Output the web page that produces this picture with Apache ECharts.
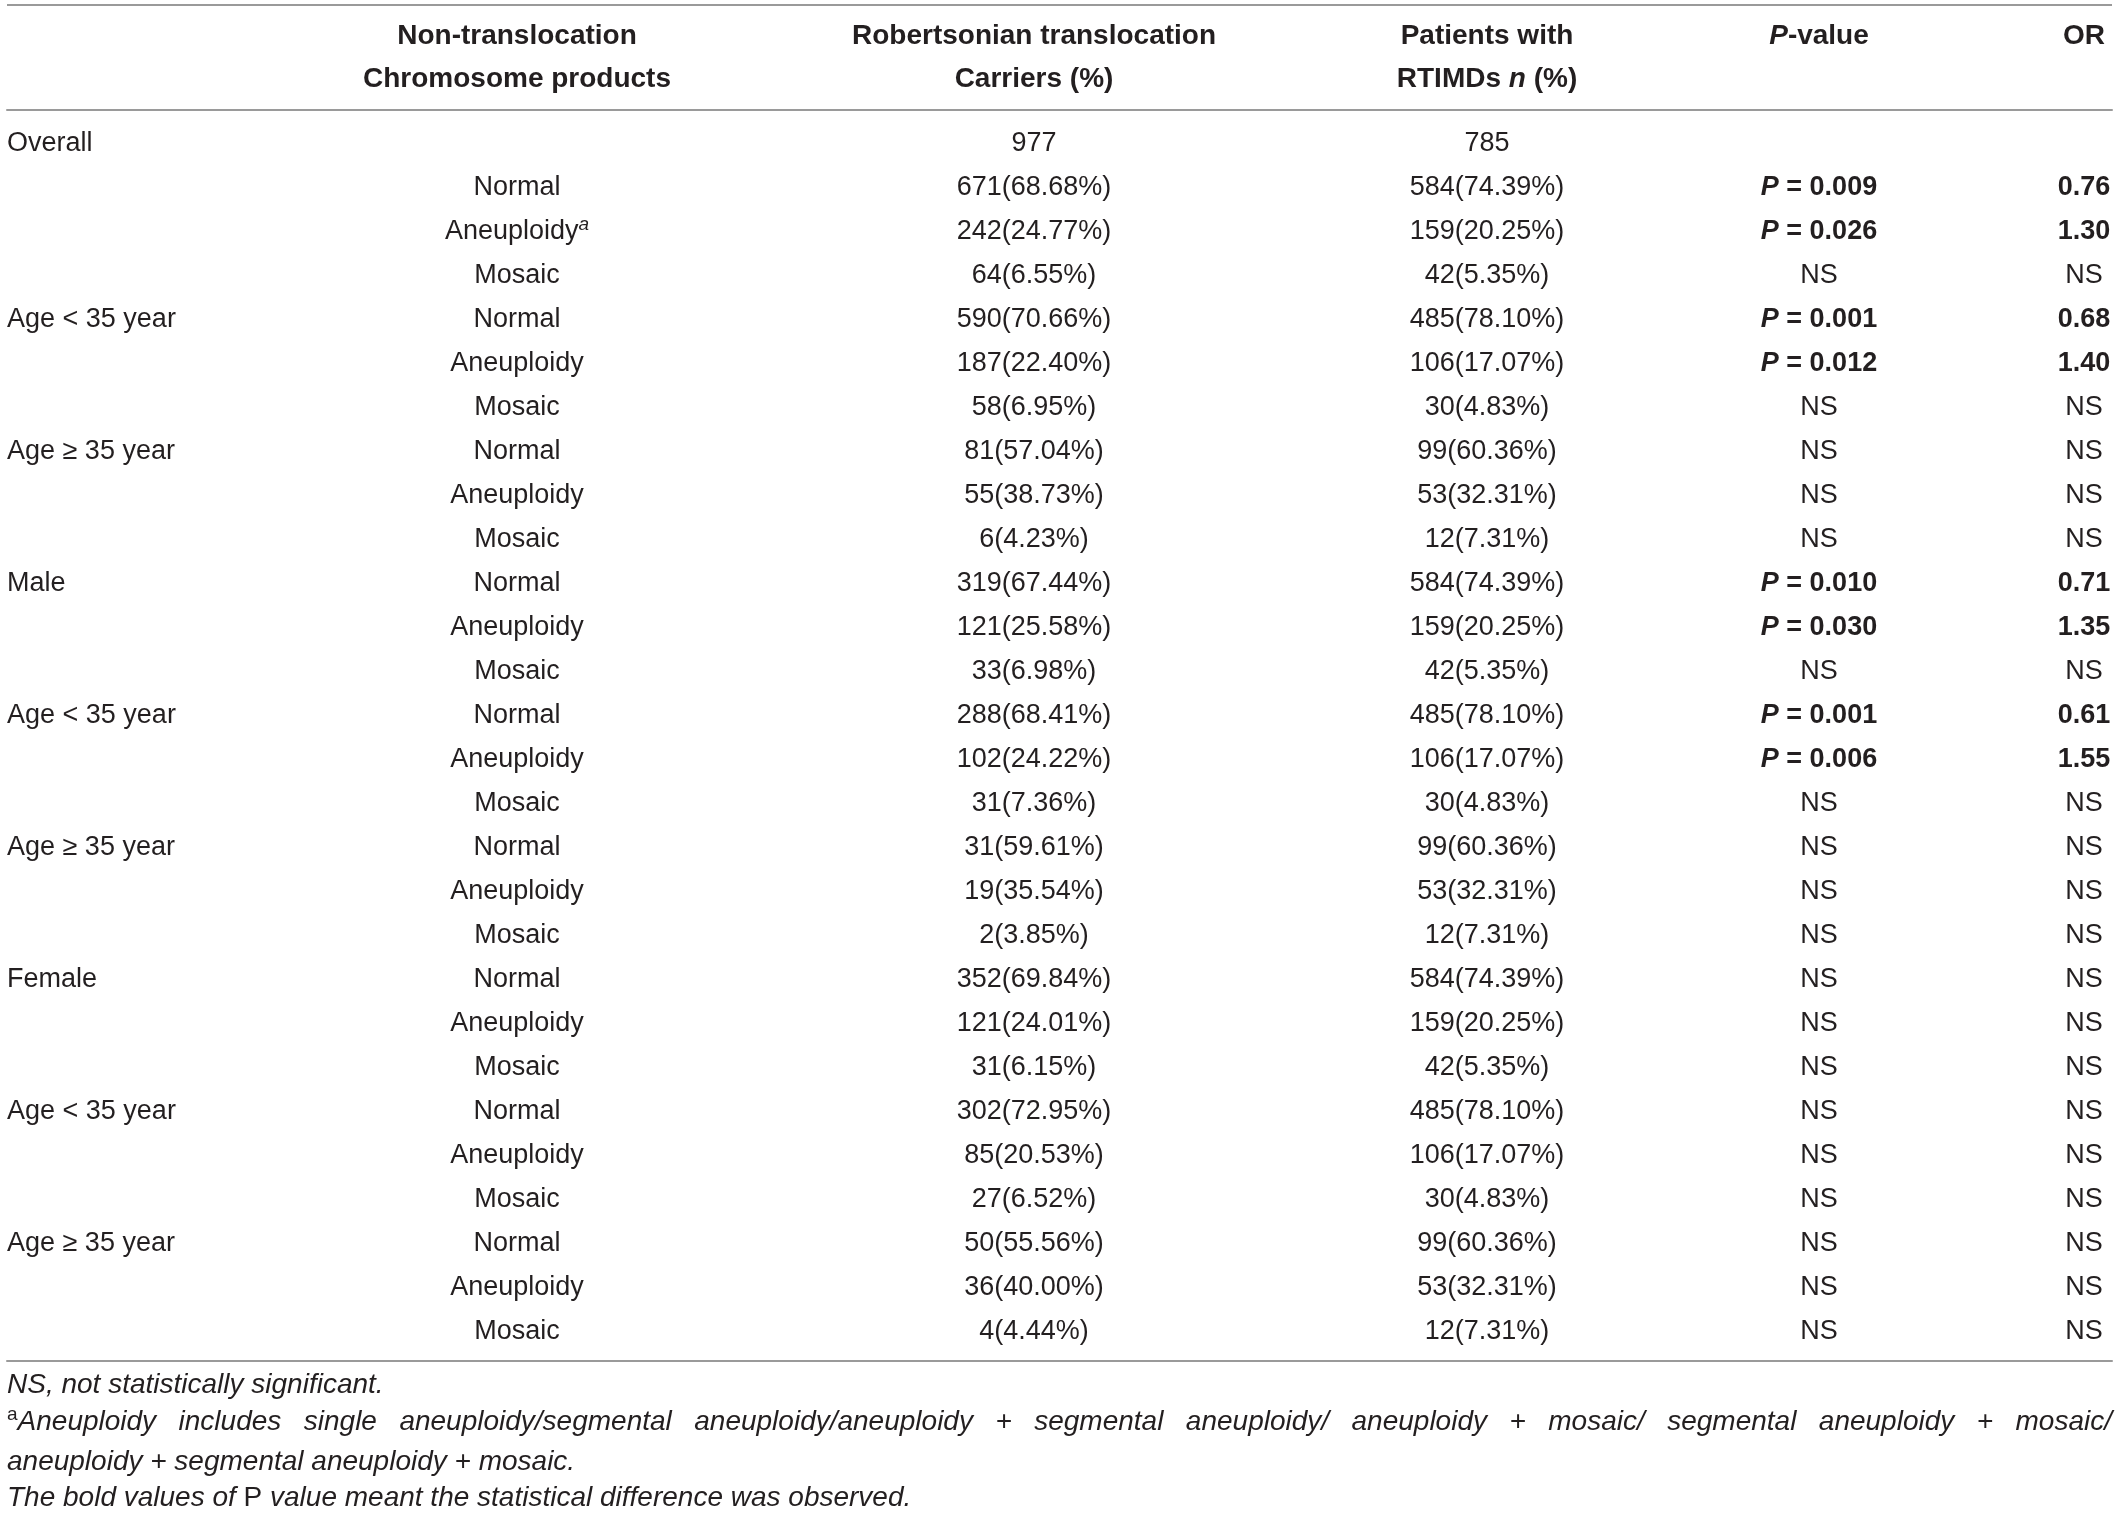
<!DOCTYPE html>
<html>
<head>
<meta charset="utf-8">
<title>Non-translocation chromosome products</title>
<script src="https://cdn.jsdelivr.net/npm/echarts@6/dist/echarts.min.js"></script>
<style>
html,body{margin:0;padding:0;background:#fff;}
#table{width:2120px;height:1513px;}
</style>
</head>
<body>
<div id="table"></div>
<script>
// table values
var groupLabels=['','Age < 35 year','Age \u2265 35 year','Male','Age < 35 year','Age \u2265 35 year','Female','Age < 35 year','Age \u2265 35 year'];
var products=['Normal','Aneuploidy','Mosaic'];
var carrierTotal=977;
var patientTotal=785;
var carrierN=[671,242,64, 590,187,58, 81,55,6, 319,121,33, 288,102,31, 31,19,2, 352,121,31, 302,85,27, 50,36,4];
var carrierPct=[68.68,24.77,6.55, 70.66,22.40,6.95, 57.04,38.73,4.23, 67.44,25.58,6.98, 68.41,24.22,7.36, 59.61,35.54,3.85, 69.84,24.01,6.15, 72.95,20.53,6.52, 55.56,40.00,4.44];
var patientN=[584,159,42, 485,106,30, 99,53,12, 584,159,42, 485,106,30, 99,53,12, 584,159,42, 485,106,30, 99,53,12];
var patientPct=[74.39,20.25,5.35, 78.10,17.07,4.83, 60.36,32.31,7.31, 74.39,20.25,5.35, 78.10,17.07,4.83, 60.36,32.31,7.31, 74.39,20.25,5.35, 78.10,17.07,4.83, 60.36,32.31,7.31];
var pValues=[0.009,0.026,null, 0.001,0.012,null, null,null,null, 0.010,0.030,null, 0.001,0.006,null, null,null,null, null,null,null, null,null,null, null,null,null];
var orValues=[0.76,1.30,null, 0.68,1.40,null, null,null,null, 0.71,1.35,null, 0.61,1.55,null, null,null,null, null,null,null, null,null,null, null,null,null];

// layout
var fontFamily='"Liberation Sans", Arial, sans-serif';
var textColor='#231f20';
var ruleColor='#9a9a9a';
var gridLeft=7, gridRight=8, gridTop=110, gridBottom=152;
var colX=[0,510,1027,1480,1812,2077];
var colAlign=['left','center','center','center','center','center'];

var richStyles={
    bi:{fontStyle:'italic',fontWeight:'bold',fontSize:27,fontFamily:fontFamily,lineHeight:34},
    b:{fontWeight:'bold',fontSize:27,fontFamily:fontFamily,lineHeight:34},
    sup:{fontStyle:'italic',fontSize:19,fontFamily:fontFamily,lineHeight:19,verticalAlign:'top'}
};

var cells=[];
cells.push({col:0,row:0,text:'Overall'});
cells.push({col:2,row:0,text:String(carrierTotal)});
cells.push({col:3,row:0,text:String(patientTotal)});
for(var i=0;i<carrierN.length;i++){
    var row=i+1;
    var k=i%3;
    if(k==0 && groupLabels[i/3]){
        cells.push({col:0,row:row,text:groupLabels[i/3]});
    }
    cells.push({col:1,row:row,text:products[k]+(i==1?'{sup|a}':'')});
    cells.push({col:2,row:row,text:carrierN[i]+'('+carrierPct[i].toFixed(2)+'%)'});
    cells.push({col:3,row:row,text:patientN[i]+'('+patientPct[i].toFixed(2)+'%)'});
    if(pValues[i]!==null){
        cells.push({col:4,row:row,text:'{bi|P}{b| = '+pValues[i].toFixed(3)+'}'});
        cells.push({col:5,row:row,text:'{b|'+orValues[i].toFixed(2)+'}'});
    }else{
        cells.push({col:4,row:row,text:'NS'});
        cells.push({col:5,row:row,text:'NS'});
    }
}

var headers=[
    {col:1,text:'Non-translocation\nChromosome products'},
    {col:2,text:'Robertsonian translocation\nCarriers (%)'},
    {col:3,text:'Patients with\nRTIMDs {hi|n} (%)'},
    {col:4,text:'{hi|P}-value\n '},
    {col:5,text:'OR\n '}
];

// justified second footnote line
function measure(text,font){
    var ctx=document.createElement('canvas').getContext('2d');
    ctx.font=font;
    return ctx.measureText(text).width;
}
var noteFont='italic 28px '+fontFamily;
var noteWords=['Aneuploidy','includes','single','aneuploidy/segmental','aneuploidy/aneuploidy','+','segmental','aneuploidy/','aneuploidy','+','mosaic/','segmental','aneuploidy','+','mosaic/'];
var wordsWidth=measure('a','19px '+fontFamily);
noteWords.forEach(function(w){ wordsWidth+=measure(w,noteFont); });
var noteGap=(2105-wordsWidth)/(noteWords.length-1);

var noteRich={
    sup:{fontSize:19,fontStyle:'normal',fontFamily:fontFamily,lineHeight:19,verticalAlign:'top'},
    up:{fontStyle:'normal',fontSize:28,fontFamily:fontFamily,lineHeight:34},
    g:{width:noteGap,fontSize:28,lineHeight:34}
};
var notes=[
    {y:1385,text:'NS, not statistically significant.'},
    {y:1422,text:'{sup|a}'+noteWords.join('{g| }')},
    {y:1462,text:'aneuploidy + segmental aneuploidy + mosaic.'},
    {y:1498,text:'The bold values of {up|P} value meant the statistical difference was observed.'}
];

var graphics=[{
    type:'line',
    shape:{x1:gridLeft,y1:5,x2:2120-gridRight,y2:5},
    style:{stroke:ruleColor,lineWidth:2}
}];
headers.forEach(function(h){
    graphics.push({
        type:'text',
        x:gridLeft+colX[h.col],
        y:58,
        style:{
            text:h.text,
            fill:textColor,
            fontSize:28,
            fontWeight:'bold',
            fontFamily:fontFamily,
            lineHeight:43,
            align:'center',textAlign:'center',
            verticalAlign:'middle',textVerticalAlign:'middle',
            rich:{hi:{fontStyle:'italic',fontWeight:'bold',fontSize:28,fontFamily:fontFamily,lineHeight:43}}
        }
    });
});
notes.forEach(function(n){
    graphics.push({
        type:'text',
        x:gridLeft,
        y:n.y,
        style:{
            text:n.text,
            fill:textColor,
            fontSize:28,
            fontStyle:'italic',
            fontFamily:fontFamily,
            lineHeight:34,
            align:'left',textAlign:'left',
            verticalAlign:'middle',textVerticalAlign:'middle',
            rich:noteRich
        }
    });
});

var chart=echarts.init(document.getElementById('table'),null,{renderer:'canvas'});
var axisStyle={
    type:'value',min:0,max:2105,
    axisLine:{show:true,onZero:false,lineStyle:{color:ruleColor,width:2}},
    axisTick:{show:false},axisLabel:{show:false},splitLine:{show:false}
};
chart.setOption({
    backgroundColor:'#fff',
    animation:false,
    grid:{left:gridLeft,right:gridRight,top:gridTop,bottom:gridBottom},
    xAxis:[
        echarts.util.merge({position:'bottom'},axisStyle),
        echarts.util.merge({position:'top'},axisStyle)
    ],
    yAxis:{type:'value',inverse:true,min:-0.772,max:27.66,show:false},
    graphic:graphics,
    series:[{
        type:'custom',
        xAxisIndex:0,
        data:cells.map(function(c,i){ return [colX[c.col],c.row,i]; }),
        renderItem:function(params,api){
            var cell=cells[api.value(2)];
            var pt=api.coord([api.value(0),api.value(1)]);
            var align=colAlign[cell.col];
            return {
                type:'text',
                style:{
                    x:pt[0],y:pt[1],
                    text:cell.text,
                    fill:textColor,
                    fontSize:27,
                    fontFamily:fontFamily,
                    lineHeight:34,
                    align:align,textAlign:align,
                    verticalAlign:'middle',textVerticalAlign:'middle',
                    rich:richStyles
                }
            };
        }
    }]
});
</script>
</body>
</html>
